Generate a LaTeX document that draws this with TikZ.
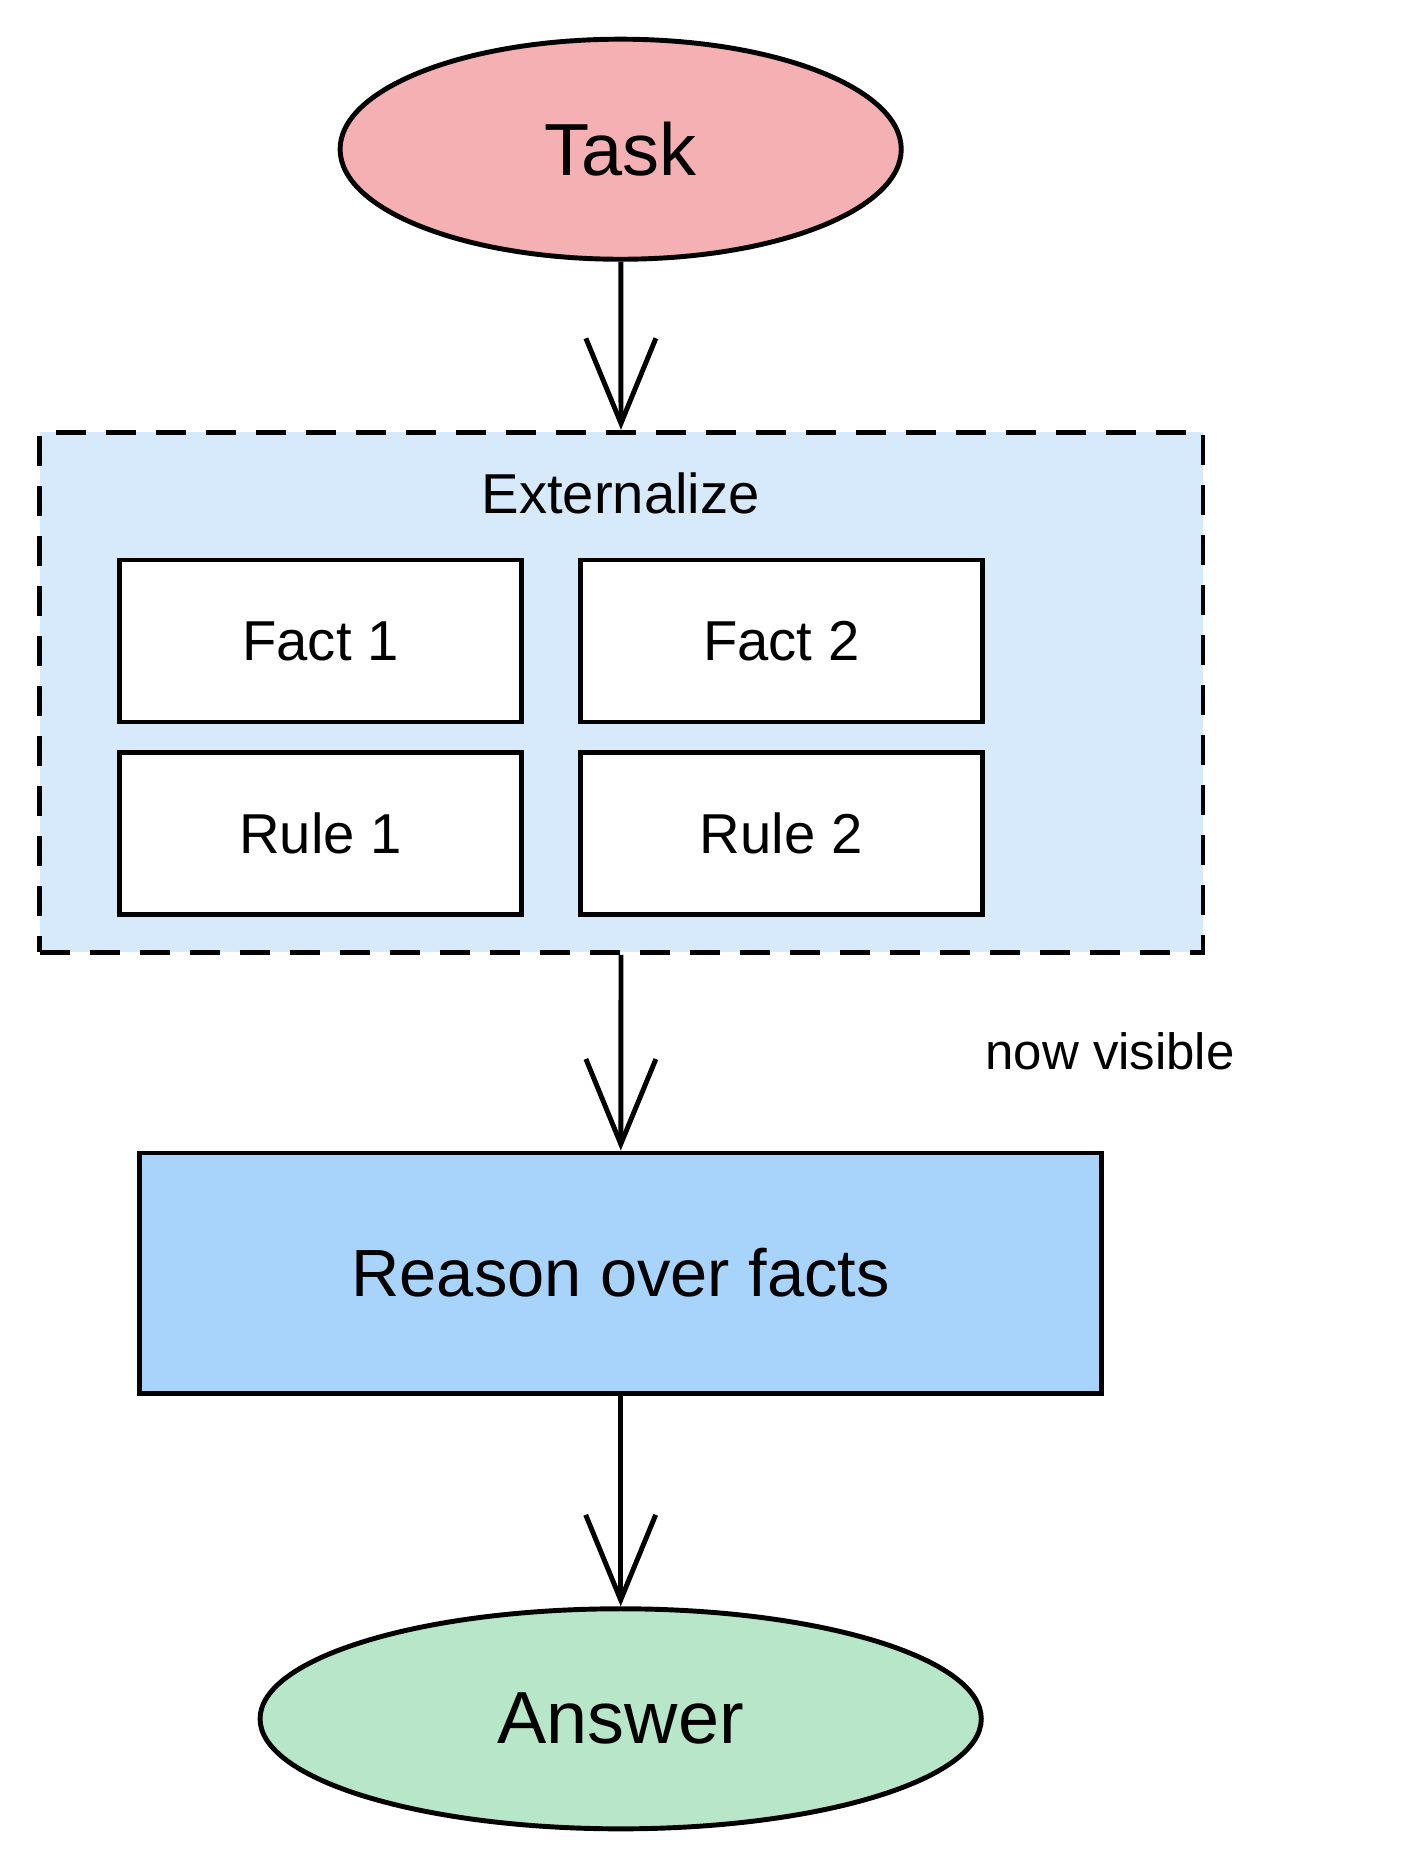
\documentclass[tikz,border=0pt]{standalone}
\usepackage{fontspec}
\setmainfont{Liberation Sans}
\usetikzlibrary{shapes.geometric,arrows.meta,positioning}
\definecolor{taskred}{HTML}{F4B0B2}
\definecolor{extblue}{HTML}{D6EAFB}
\definecolor{reasonblue}{HTML}{A8D4FC}
\definecolor{answergreen}{HTML}{B8E6C8}
\tikzset{
  line/.style={line width=1.4pt},
  flow/.style={line, -{Straight Barb[length=0.85cm,width=0.7cm,line width=1.4pt]}},
  term/.style={ellipse, draw, line, inner sep=0pt, font=\fontsize{21}{25}\selectfont},
  item/.style={rectangle, draw, line, fill=white, inner sep=0pt,
    minimum width=4.02cm, minimum height=1.62cm, font=\fontsize{16}{19}\selectfont},
}
\begin{document}
\begin{tikzpicture}[x=0.01193cm, y=-0.01193cm]
  \useasboundingbox (0,0) rectangle (1190,1565);
  % start and end
  \node[term, fill=taskred, minimum width=5.61cm, minimum height=2.2cm] (task) at (520,125) {Task};
  \node[term, fill=answergreen, minimum width=7.21cm, minimum height=2.2cm] (answer) at (520,1440) {Answer};
  % externalize group
  \node[rectangle, draw, line, dash pattern=on 0.3cm off 0.2cm, fill=extblue,
    minimum width=11.63cm, minimum height=5.2cm, inner sep=0pt] (ext) at (520.5,580) {};
  \node[font=\fontsize{16}{19}\selectfont] (extlabel) at (520,413) {Externalize};
  \node[item] (fact1) at (268.5,537) {Fact 1};
  \node[item] (fact2) at (654.5,537) {Fact 2};
  \node[item] (rule1) at (268.5,698) {Rule 1};
  \node[item] (rule2) at (654.5,698) {Rule 2};
  % reasoning
  \node[rectangle, draw, line, fill=reasonblue, inner sep=0pt,
    minimum width=9.62cm, minimum height=2.4cm, font=\fontsize{19}{23}\selectfont] (reason) at (520,1066.5) {Reason over facts};
  \node[font=\fontsize{14.5}{17}\selectfont] (visible) at (930,881) {now visible};
  % connectors
  \draw[flow] (task) -- (ext);
  \draw[flow] (ext) -- (reason);
  \draw[flow] (reason) -- (answer);
\end{tikzpicture}
\end{document}
